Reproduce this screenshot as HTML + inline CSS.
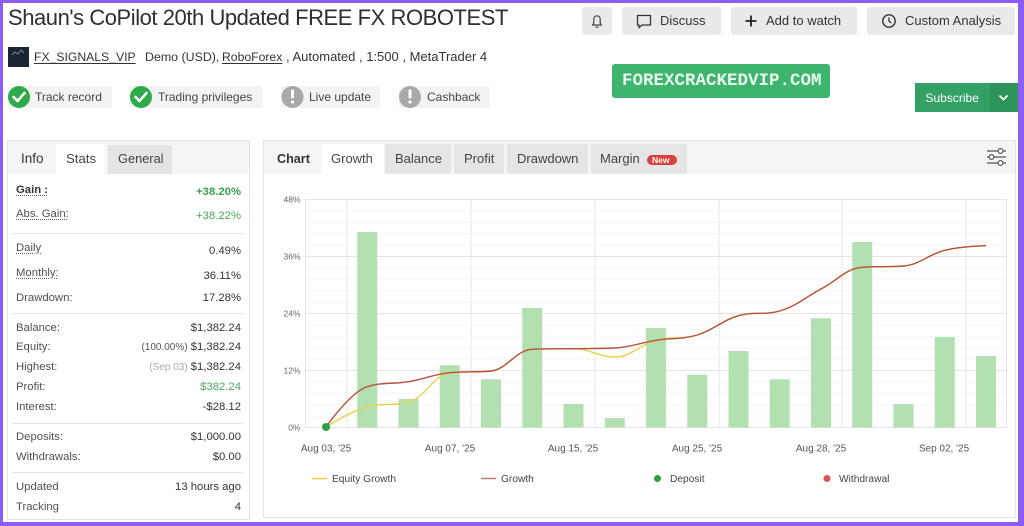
<!DOCTYPE html>
<html><head><meta charset="utf-8">
<style>
*{margin:0;padding:0;box-sizing:border-box}
html,body{width:1024px;height:526px;overflow:hidden;background:#8b5cf6;font-family:"Liberation Sans",Arial,sans-serif;color:#333;position:relative}
#page{position:absolute;left:3px;top:3px;width:1015px;height:519px;background:#fff}
.a{position:absolute;white-space:nowrap}
.box{position:absolute}
.lab{position:absolute;left:16px;font-size:11.3px;color:#505050;line-height:16px;height:16px;white-space:nowrap}
.val{position:absolute;right:783px;font-size:11.3px;color:#333;line-height:16px;height:16px;text-align:right;white-space:nowrap}
.dot{text-decoration:underline dotted #666;text-underline-offset:2px}
.btn{position:absolute;background:#e8e9eb;border-radius:3px;height:28px;top:7px}
.bt{position:absolute;font-size:13px;color:#333;line-height:16px;top:12.5px;white-space:nowrap}
.badge{position:absolute;background:#f3f3f3;top:86px;height:22px;border-radius:3px}
.bdt{position:absolute;font-size:12px;color:#444;line-height:16px;top:88.5px;white-space:nowrap}
.tab{position:absolute;top:144px;height:30px;background:#e5e5e5}
.tt{position:absolute;font-size:13px;color:#444;line-height:16px;top:151px;white-space:nowrap}
.sep{position:absolute;left:12px;width:232px;height:1px;background:#e6e6e6}
.xl{font-size:10px;fill:#555}
.yl{font-size:8.5px;fill:#666}
.lg{font-size:10.2px;fill:#444}
</style></head><body>
<div id="page"></div>

<!-- Title -->
<div class="a" style="left:8px;top:6.3px;font-size:22px;letter-spacing:-0.45px;line-height:24px;color:#2f2f2f">Shaun's CoPilot 20th Updated FREE FX ROBOTEST</div>

<!-- Subheader -->
<div class="box" style="left:8px;top:47px;width:21px;height:20px;background:#1b2433"></div>
<div class="a" style="left:34px;top:48.5px;font-size:12.2px;line-height:16px;color:#333;text-decoration:underline;text-underline-offset:2px">FX_SIGNALS_VIP</div>
<div class="a" style="left:145px;top:48.5px;font-size:12.4px;line-height:16px;color:#333">Demo (USD),</div>
<div class="a" style="left:222px;top:48.5px;font-size:12.2px;line-height:16px;color:#333;text-decoration:underline;text-underline-offset:2px">RoboForex</div>
<div class="a" style="left:286px;top:48.5px;font-size:13px;line-height:16px;color:#333">, Automated , 1:500 , MetaTrader 4</div>

<!-- Badges -->
<div class="badge" style="left:8px;width:104px"></div>
<div class="badge" style="left:129px;width:134px"></div>
<div class="badge" style="left:281px;width:99px"></div>
<div class="badge" style="left:399px;width:91px"></div>
<div class="bdt" style="left:35px">Track record</div>
<div class="bdt" style="left:158px">Trading privileges</div>
<div class="bdt" style="left:309px">Live update</div>
<div class="bdt" style="left:427px">Cashback</div>

<!-- Top buttons -->
<div class="btn" style="left:582px;width:30px"></div>
<div class="btn" style="left:622px;width:99px"></div>
<div class="btn" style="left:731px;width:126px"></div>
<div class="btn" style="left:867px;width:148px"></div>
<div class="bt" style="left:660px">Discuss</div>
<div class="bt" style="left:766px">Add to watch</div>
<div class="bt" style="left:905px">Custom Analysis</div>

<!-- Watermark -->
<div class="box" style="left:612px;top:64px;width:218px;height:34px;background:#3db56f;border-radius:3px"></div>
<div class="a" style="left:622px;top:71px;font-family:'Liberation Mono',monospace;font-weight:bold;font-size:17.5px;line-height:20px;color:#e8f6ec">FOREXCRACKEDVIP.COM</div>

<!-- Subscribe -->
<div class="box" style="left:915px;top:83px;width:103px;height:29px;background:#33a064"></div>
<div class="box" style="left:990px;top:83px;width:28px;height:29px;background:#2d955a"></div>
<div class="a" style="left:925.5px;top:89.5px;font-size:12px;line-height:16px;color:#fff">Subscribe</div>

<!-- Left panel -->
<div class="box" style="left:7px;top:140px;width:243px;height:380px;border:1px solid #e3e3e3;background:#fff"></div>
<div class="box" style="left:8px;top:141px;width:241px;height:33px;background:#f5f5f5"></div>
<div class="box" style="left:56px;top:144px;width:49px;height:30px;background:#fff"></div>
<div class="box" style="left:108px;top:145px;width:64px;height:29px;background:#e4e4e4"></div>
<div class="a" style="left:21px;top:151px;font-size:13.5px;line-height:16px;color:#333">Info</div>
<div class="a" style="left:66px;top:151px;font-size:13.2px;line-height:16px;color:#444">Stats</div>
<div class="a" style="left:118px;top:151px;font-size:12.8px;line-height:16px;color:#444">General</div>

<div class="lab" style="top:181.7px;font-weight:bold;color:#333"><span class="dot">Gain :</span></div>
<div class="val" style="top:183.7px;font-weight:bold;color:#3aa04a">+38.20%</div>
<div class="lab" style="top:206px"><span class="dot">Abs. Gain:</span></div>
<div class="val" style="top:208px;color:#46a85a">+38.22%</div>
<div class="sep" style="top:233px"></div>
<div class="lab" style="top:240px"><span class="dot">Daily</span></div>
<div class="val" style="top:243px">0.49%</div>
<div class="lab" style="top:265px"><span class="dot">Monthly:</span></div>
<div class="val" style="top:267.7px">36.11%</div>
<div class="lab" style="top:290px">Drawdown:</div>
<div class="val" style="top:290.3px">17.28%</div>
<div class="sep" style="top:313px"></div>
<div class="lab" style="top:319.5px">Balance:</div>
<div class="val" style="top:319.5px">$1,382.24</div>
<div class="lab" style="top:339.3px">Equity:</div>
<div class="val" style="top:339.3px"><span style="font-size:10px;color:#555">(100.00%)</span> $1,382.24</div>
<div class="lab" style="top:359.3px">Highest:</div>
<div class="val" style="top:359.3px"><span style="font-size:10px;color:#aaa">(Sep 03)</span> $1,382.24</div>
<div class="lab" style="top:379px">Profit:</div>
<div class="val" style="top:379px;color:#4aa85c">$382.24</div>
<div class="lab" style="top:398.7px">Interest:</div>
<div class="val" style="top:398.7px">-$28.12</div>
<div class="sep" style="top:423px"></div>
<div class="lab" style="top:429.3px">Deposits:</div>
<div class="val" style="top:429.3px">$1,000.00</div>
<div class="lab" style="top:449px">Withdrawals:</div>
<div class="val" style="top:449px">$0.00</div>
<div class="sep" style="top:472px"></div>
<div class="lab" style="top:478.7px">Updated</div>
<div class="val" style="top:478.7px">13 hours ago</div>
<div class="lab" style="top:498.7px">Tracking</div>
<div class="val" style="top:498.7px">4</div>

<!-- Chart panel -->
<div class="box" style="left:263px;top:140px;width:753px;height:378px;border:1px solid #e3e3e3;background:#fff"></div>
<div class="box" style="left:264px;top:141px;width:751px;height:33px;background:#f5f5f5"></div>
<div class="tab" style="left:322px;width:62px;background:#fff"></div>
<div class="tab" style="left:385px;width:66px"></div>
<div class="tab" style="left:454px;width:50px"></div>
<div class="tab" style="left:507px;width:81px"></div>
<div class="tab" style="left:591px;width:96px"></div>
<div class="tt" style="left:277px;font-weight:bold;color:#333;font-size:12.6px">Chart</div>
<div class="tt" style="left:331px">Growth</div>
<div class="tt" style="left:395px">Balance</div>
<div class="tt" style="left:464px">Profit</div>
<div class="tt" style="left:517px">Drawdown</div>
<div class="tt" style="left:600px">Margin</div>
<div class="box" style="left:647px;top:155px;width:30px;height:10px;background:#d9413f;border-radius:5px"></div>
<div class="a" style="left:652px;top:155px;font-size:8.5px;line-height:10px;font-weight:bold;color:#fff">New</div>

<svg class="a" style="left:0;top:0" width="1024" height="526" viewBox="0 0 1024 526" xmlns="http://www.w3.org/2000/svg">
  <!-- badge icons -->
  <circle cx="19" cy="97" r="11" fill="#2eaa4a"/>
  <polyline points="13.5,97 17.5,101 24.5,93" fill="none" stroke="#fff" stroke-width="2.6" stroke-linecap="round" stroke-linejoin="round"/>
  <circle cx="141" cy="97" r="11" fill="#2eaa4a"/>
  <polyline points="135.5,97 139.5,101 146.5,93" fill="none" stroke="#fff" stroke-width="2.6" stroke-linecap="round" stroke-linejoin="round"/>
  <circle cx="292.5" cy="97" r="11" fill="#a9a9a9"/>
  <rect x="291" y="89.5" width="3" height="9" rx="1" fill="#fff"/>
  <rect x="291" y="100.5" width="3" height="3" rx="1" fill="#fff"/>
  <circle cx="410" cy="97" r="11" fill="#a9a9a9"/>
  <rect x="408.5" y="89.5" width="3" height="9" rx="1" fill="#fff"/>
  <rect x="408.5" y="100.5" width="3" height="3" rx="1" fill="#fff"/>

  <!-- avatar mark -->
  <path d="M12,55 l3,-3 l3,2 l3,-4 l3,3" fill="none" stroke="#8aa0c0" stroke-width="0.8"/>

  <!-- bell -->
  <path d="M592.5,25 h9 l-1.3,-1.8 v-4.2 a3.2,3.2 0 0 0 -6.4,0 v4.2 z" fill="none" stroke="#444" stroke-width="1.2" stroke-linejoin="round"/>
  <path d="M595.8,26.5 a1.3,1.3 0 0 0 2.4,0" fill="none" stroke="#444" stroke-width="1.1"/>
  <!-- discuss bubble -->
  <path d="M637.5,15.5 h13 v9.5 h-8.5 l-3,2.7 v-2.7 h-1.5 z" fill="none" stroke="#333" stroke-width="1.3" stroke-linejoin="round"/>
  <!-- plus -->
  <path d="M745.5,21 h11 M751,15.5 v11" stroke="#222" stroke-width="1.8"/>
  <!-- clock -->
  <circle cx="889" cy="21" r="6.2" fill="none" stroke="#333" stroke-width="1.4"/>
  <path d="M889,17.5 v3.8 l2.4,1.6" fill="none" stroke="#333" stroke-width="1.3"/>
  <!-- subscribe chevron -->
  <polyline points="999.5,95.5 1003.5,99.5 1007.5,95.5" fill="none" stroke="#fff" stroke-width="1.8"/>

  <!-- settings icon -->
  <g stroke="#555" stroke-width="1.2" fill="#fff">
    <line x1="987" y1="151" x2="1006" y2="151"/>
    <line x1="987" y1="157" x2="1006" y2="157"/>
    <line x1="987" y1="163" x2="1006" y2="163"/>
    <circle cx="1000.5" cy="151" r="2.4"/>
    <circle cx="991.5" cy="157" r="2.4"/>
    <circle cx="1000.5" cy="163" r="2.4"/>
  </g>

  <!-- minor grid -->
  <g stroke="#f5f5f5" stroke-width="1">
    <line x1="305" x2="1007" y1="210.9" y2="210.9"/><line x1="305" x2="1007" y1="222.3" y2="222.3"/>
    <line x1="305" x2="1007" y1="233.7" y2="233.7"/><line x1="305" x2="1007" y1="245.1" y2="245.1"/>
    <line x1="305" x2="1007" y1="267.9" y2="267.9"/><line x1="305" x2="1007" y1="279.3" y2="279.3"/>
    <line x1="305" x2="1007" y1="290.7" y2="290.7"/><line x1="305" x2="1007" y1="302.1" y2="302.1"/>
    <line x1="305" x2="1007" y1="324.9" y2="324.9"/><line x1="305" x2="1007" y1="336.3" y2="336.3"/>
    <line x1="305" x2="1007" y1="347.7" y2="347.7"/><line x1="305" x2="1007" y1="359.1" y2="359.1"/>
    <line x1="305" x2="1007" y1="381.9" y2="381.9"/><line x1="305" x2="1007" y1="393.3" y2="393.3"/>
    <line x1="305" x2="1007" y1="404.7" y2="404.7"/><line x1="305" x2="1007" y1="416.1" y2="416.1"/>
  </g>
  <!-- major grid -->
  <g stroke="#e4e4e4" stroke-width="1">
    <line x1="305" x2="1007" y1="199.5" y2="199.5"/>
    <line x1="305" x2="1007" y1="256.5" y2="256.5"/>
    <line x1="305" x2="1007" y1="313.5" y2="313.5"/>
    <line x1="305" x2="1007" y1="370.5" y2="370.5"/>
    <line x1="305" x2="1007" y1="427.5" y2="427.5"/>
    <line x1="305.5" x2="305.5" y1="199.5" y2="427.5"/>
    <line x1="1006.5" x2="1006.5" y1="199.5" y2="427.5"/>
    <line x1="347" x2="347" y1="199.5" y2="427.5"/>
    <line x1="471" x2="471" y1="199.5" y2="427.5"/>
    <line x1="595" x2="595" y1="199.5" y2="427.5"/>
    <line x1="719" x2="719" y1="199.5" y2="427.5"/>
    <line x1="842" x2="842" y1="199.5" y2="427.5"/>
    <line x1="966" x2="966" y1="199.5" y2="427.5"/>
  </g>

  <!-- y labels -->
  <text class="yl" x="300.5" y="202.5" text-anchor="end">48%</text>
  <text class="yl" x="300.5" y="259.5" text-anchor="end">36%</text>
  <text class="yl" x="300.5" y="316.5" text-anchor="end">24%</text>
  <text class="yl" x="300.5" y="373.5" text-anchor="end">12%</text>
  <text class="yl" x="300.5" y="430.5" text-anchor="end">0%</text>

  <!-- bars -->
  <g fill="#b3e0b1">
    <rect x="357.25" y="232" width="20" height="195.5"/>
    <rect x="398.5" y="399" width="20" height="28.5"/>
    <rect x="439.75" y="365.3" width="20" height="62.2"/>
    <rect x="481" y="379.3" width="20" height="48.2"/>
    <rect x="522.25" y="308" width="20" height="119.5"/>
    <rect x="563.5" y="404" width="20" height="23.5"/>
    <rect x="604.75" y="418" width="20" height="9.5"/>
    <rect x="646" y="328" width="20" height="99.5"/>
    <rect x="687.25" y="374.7" width="20" height="52.8"/>
    <rect x="728.5" y="351" width="20" height="76.5"/>
    <rect x="769.75" y="379.3" width="20" height="48.2"/>
    <rect x="811" y="318.3" width="20" height="109.2"/>
    <rect x="852.25" y="242" width="20" height="185.5"/>
    <rect x="893.5" y="404" width="20" height="23.5"/>
    <rect x="934.75" y="337" width="20" height="90.5"/>
    <rect x="976" y="356" width="20" height="71.5"/>
  </g>

  <!-- equity growth -->
  <path fill="none" stroke="#e6cf4a" stroke-width="1.4" d="M326,427 C326,427 350.75,411.1 367.25,406.7 C383.75,402.3 392,406.7 408.5,402.3 C425,397.9 433.25,375 449.75,373 C466.25,371 474.5,373 491,371 C507.5,369 515.75,349.9 532.25,349.3 C548.75,348.7 557,348.7 573.5,348.7 C590,348.7 598.25,357 614.75,357 C631.25,357 639.5,344.7 656,340.3 C672.5,335.9 680.75,339.92 697.25,335 C713.75,330.08 722,320.4 738.5,315.7 C755,311 763.25,315.7 779.75,311 C796.25,306.3 804.5,297.74 821,289 C837.5,280.26 845.75,268.6 862.25,267.3 C878.75,266 887,267.3 903.5,266 C920,264.7 928.25,254.36 944.75,250.3 C961.25,246.24 986,245.7 986,245.7"/>
  <!-- growth -->
  <path fill="none" stroke="#b4533f" stroke-width="1.4" d="M326,427 C326,427 350.75,391.7 367.25,386.7 C383.75,381.7 392,384.5 408.5,381.7 C425,378.9 433.25,374.4 449.75,372.7 C466.25,371 474.5,372.7 491,371 C507.5,369.3 515.75,349.9 532.25,349.3 C548.75,348.7 557,348.96 573.5,348.7 C590,348.44 598.25,348.7 614.75,348 C631.25,347.3 639.5,342.9 656,340.3 C672.5,337.7 680.75,339.92 697.25,335 C713.75,330.08 722,320.4 738.5,315.7 C755,311 763.25,315.7 779.75,311 C796.25,306.3 804.5,297.74 821,289 C837.5,280.26 845.75,268.6 862.25,267.3 C878.75,266 887,267.3 903.5,266 C920,264.7 928.25,254.36 944.75,250.3 C961.25,246.24 986,245.7 986,245.7"/>
  <!-- deposit point -->
  <circle cx="326" cy="427" r="4" fill="#2ea043"/>

  <!-- x labels -->
  <text class="xl" x="326" y="451.5" text-anchor="middle">Aug 03, '25</text>
  <text class="xl" x="450" y="451.5" text-anchor="middle">Aug 07, '25</text>
  <text class="xl" x="573" y="451.5" text-anchor="middle">Aug 15, '25</text>
  <text class="xl" x="697" y="451.5" text-anchor="middle">Aug 25, '25</text>
  <text class="xl" x="821" y="451.5" text-anchor="middle">Aug 28, '25</text>
  <text class="xl" x="944" y="451.5" text-anchor="middle">Sep 02, '25</text>

  <!-- legend -->
  <line x1="312" y1="478.5" x2="327" y2="478.5" stroke="#e6cf4a" stroke-width="1.5"/>
  <text class="lg" x="332" y="482">Equity Growth</text>
  <line x1="481" y1="478.5" x2="496" y2="478.5" stroke="#c07a72" stroke-width="1.5"/>
  <text class="lg" x="501" y="482">Growth</text>
  <circle cx="657.5" cy="478.5" r="3.5" fill="#2e9e3e"/>
  <text class="lg" x="670" y="482">Deposit</text>
  <circle cx="827" cy="478.5" r="3.5" fill="#d9534f"/>
  <text class="lg" x="839" y="482">Withdrawal</text>
</svg>
</body></html>
